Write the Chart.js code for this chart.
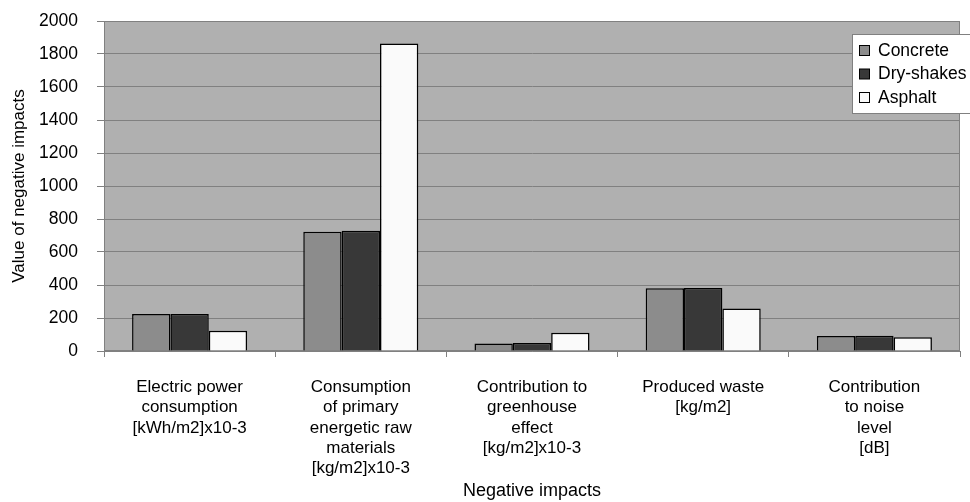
<!DOCTYPE html>
<html>
<head>
<meta charset="utf-8">
<script src="https://cdn.jsdelivr.net/npm/chart.js@4.4.0/dist/chart.umd.min.js"></script>
<style>
  html, body { margin: 0; padding: 0; background: #fff; }
  #wrap { width: 970px; height: 502px; }
</style>
</head>
<body>
<div id="wrap"><canvas id="impactChart" width="970" height="502"></canvas></div>
<script>
// categories (multi-line labels as in the original)
const impactLabels = [
    ['Electric power', 'consumption', '[kWh/m2]x10-3'],
    ['Consumption', 'of primary', 'energetic raw', 'materials', '[kg/m2]x10-3'],
    ['Contribution to', 'greenhouse', 'effect', '[kg/m2]x10-3'],
    ['Produced waste', '[kg/m2]'],
    ['Contribution', 'to noise', 'level', '[dB]']
];

// series values
const concrete = [224, 723, 46, 380, 91];
const dryShakes = [224, 729, 48, 382, 93];
const asphalt = [123, 1863, 111, 257, 83];

const yTicks = [0, 200, 400, 600, 800, 1000, 1200, 1400, 1600, 1800, 2000];

const fontFamily = '"Liberation Sans", Arial, sans-serif';

// gray plot background + frame
const plotBackground = {
    id: 'plotBackground',
    beforeDraw(chart) {
        const { ctx, chartArea: a } = chart;
        ctx.save();
        ctx.fillStyle = '#b0b0b0';
        ctx.fillRect(a.left, a.top, a.right - a.left, a.bottom - a.top);
        ctx.strokeStyle = '#808080';
        ctx.lineWidth = 1;
        ctx.strokeRect(a.left + 0.5, a.top + 0.5, a.right - a.left - 1, a.bottom - a.top - 1);
        ctx.restore();
    }
};

// legend box drawn over the plot, top right
const boxLegend = {
    id: 'boxLegend',
    afterDraw(chart) {
        const ctx = chart.ctx;
        const x = 852, y = 34, w = 125, h = 79;
        ctx.save();
        ctx.fillStyle = '#ffffff';
        ctx.fillRect(x, y, w, h);
        ctx.strokeStyle = '#808080';
        ctx.lineWidth = 1;
        ctx.strokeRect(x + 0.5, y + 0.5, w, h);
        ctx.font = '17.5px ' + fontFamily;
        ctx.textBaseline = 'middle';
        chart.data.datasets.forEach((ds, i) => {
            const cy = y + 17 + i * 23.5;
            ctx.fillStyle = ds.backgroundColor;
            ctx.fillRect(859.5, cy - 5.5, 10, 10);
            ctx.strokeStyle = '#000';
            ctx.lineWidth = 1;
            ctx.strokeRect(859.5, cy - 5.5, 10, 10);
            ctx.fillStyle = '#000';
            ctx.fillText(ds.label, 878, cy);
        });
        ctx.restore();
    }
};

const data = {
    labels: impactLabels,
    datasets: [
        { label: 'Concrete', data: concrete, backgroundColor: '#8c8c8c' },
        { label: 'Dry-shakes', data: dryShakes, backgroundColor: '#383838' },
        { label: 'Asphalt', data: asphalt, backgroundColor: '#fafafa' }
    ]
};
data.datasets.forEach(ds => {
    ds.borderColor = '#000000';
    ds.borderWidth = 1.5;
    ds.barPercentage = 1.0;
    ds.categoryPercentage = 0.672;
});

const config = {
    type: 'bar',
    data: data,
    options: {
        responsive: false,
        animation: false,
        layout: { padding: { top: 21, right: 10, bottom: 0, left: 0 } },
        plugins: {
            legend: { display: false },
            tooltip: { enabled: false }
        },
        scales: {
            x: {
                grid: { drawOnChartArea: false, tickLength: 6, color: '#808080' },
                border: { color: '#808080' },
                ticks: {
                    autoSkip: false, maxRotation: 0, minRotation: 0,
                    color: '#000', padding: 20,
                    font: { family: fontFamily, size: 17, lineHeight: 1.2 }
                },
                title: {
                    display: true, text: 'Negative impacts', color: '#000',
                    font: { family: fontFamily, size: 18 },
                    padding: { top: 0, bottom: 0 }
                },
                afterFit(scale) {
                    scale.height = 151;
                    scale.paddingLeft = 0;
                    scale.paddingRight = 0;
                }
            },
            y: {
                min: 0, max: 2000,
                afterBuildTicks(scale) { scale.ticks = yTicks.map(v => ({ value: v })); },
                grid: { color: '#808080', tickLength: 7 },
                border: { color: '#808080' },
                ticks: {
                    color: '#000', padding: 19,
                    font: { family: fontFamily, size: 17.5 },
                    callback: v => String(v)
                },
                title: {
                    display: true, text: 'Value of negative impacts', color: '#000',
                    font: { family: fontFamily, size: 17 },
                    padding: { top: 9, bottom: 0 }
                },
                afterFit(scale) {
                    scale.width = 104;
                    scale.paddingTop = 0;
                    scale.paddingBottom = 0;
                }
            }
        }
    },
    plugins: [plotBackground, boxLegend]
};

const myChart = new Chart(document.getElementById('impactChart'), config);
</script>
</body>
</html>
